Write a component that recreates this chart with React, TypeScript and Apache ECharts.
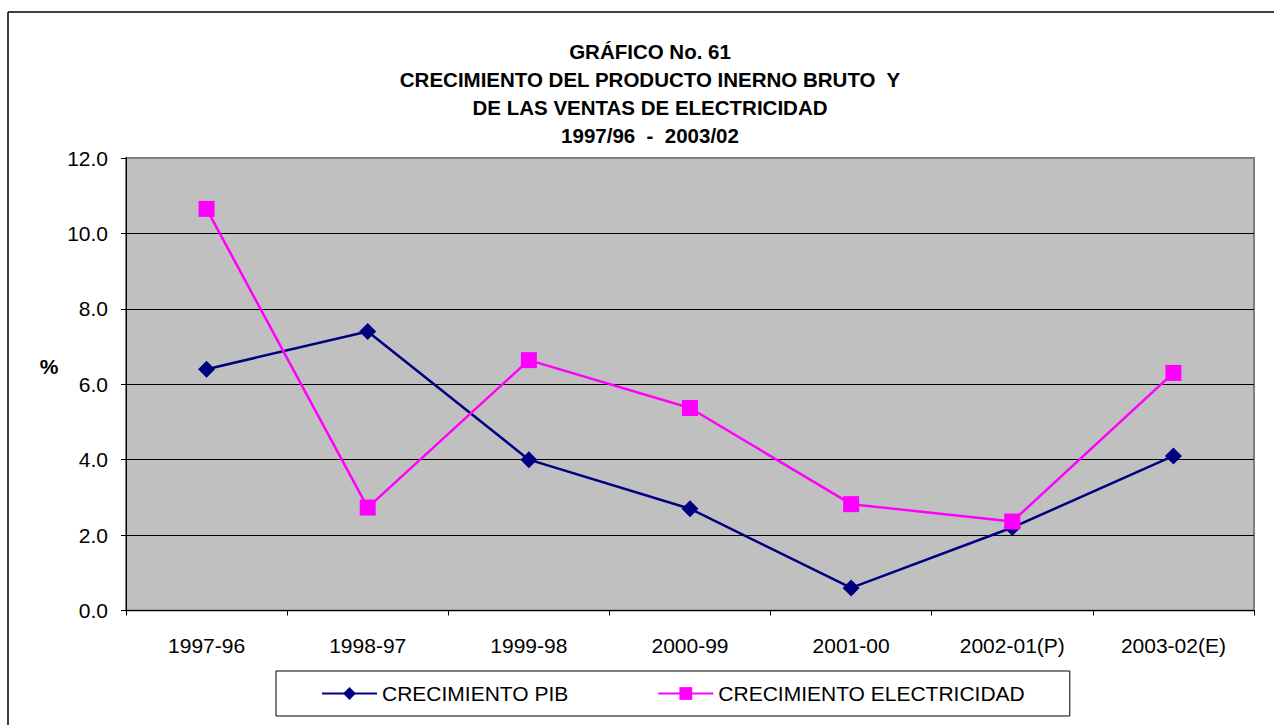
import React, { useEffect, useRef } from "react";
import * as echarts from "echarts";

const titleLines = [
  "GRÁFICO No. 61",
  "CRECIMIENTO DEL PRODUCTO INERNO BRUTO  Y",
  "DE LAS VENTAS DE ELECTRICIDAD",
  "1997/96  -  2003/02",
];
const categories = ["1997-96", "1998-97", "1999-98", "2000-99", "2001-00", "2002-01(P)", "2003-02(E)"];
const pibName = "CRECIMIENTO PIB";
const elecName = "CRECIMIENTO ELECTRICIDAD";
const pibValues = [6.4, 7.4, 4.0, 2.7, 0.6, 2.2, 4.1];
const elecValues = [10.65, 2.73, 6.64, 5.37, 2.82, 2.36, 6.3];
const yMin = 0;
const yMax = 12;
const yStep = 2;
const yUnit = "%";

const FONT = '"Liberation Sans", Arial, sans-serif';

export default function App() {
  const ref = useRef<HTMLDivElement>(null);
  useEffect(() => {
    if (!ref.current) return;
    const chart = echarts.init(ref.current, undefined, { renderer: "svg" });
    chart.setOption({
      animation: false,
      backgroundColor: "#ffffff",
      textStyle: { fontFamily: FONT },
      title: {
        text: titleLines.join("\n"),
        left: 650,
        textAlign: "center",
        top: 37,
        padding: 0,
        textStyle: {
          fontFamily: FONT,
          fontSize: 20.5,
          fontWeight: "bold",
          color: "#000",
          lineHeight: 28,
        },
      },
      graphic: [
        { type: "line", shape: { x1: 8, y1: 12, x2: 1274, y2: 12 }, style: { stroke: "#000", lineWidth: 1.5 } },
        { type: "line", shape: { x1: 8, y1: 12, x2: 8, y2: 725 }, style: { stroke: "#000", lineWidth: 1.5 } },
        {
          type: "text",
          x: 49,
          y: 366,
          style: {
            text: yUnit,
            fontFamily: FONT,
            fontSize: 21,
            fontWeight: "bold",
            fill: "#000",
            textAlign: "center",
            textVerticalAlign: "middle",
          },
        },
      ],
      legend: {
        left: 276,
        top: 671,
        padding: [12, 45],
        itemGap: 89,
        itemWidth: 55,
        itemHeight: 16,
        borderColor: "#000",
        borderWidth: 1,
        backgroundColor: "#fff",
        textStyle: { fontFamily: FONT, fontSize: 21, color: "#000" },
        data: [pibName, elecName],
      },
      grid: {
        left: 126,
        right: 20,
        top: 158,
        bottom: 114.5,
        show: true,
        backgroundColor: "#C0C0C0",
        borderColor: "#808080",
        borderWidth: 2,
      },
      xAxis: {
        type: "category",
        data: categories,
        boundaryGap: true,
        axisLine: { lineStyle: { color: "#000", width: 1 } },
        axisTick: { show: true, length: 5, inside: false, lineStyle: { color: "#000" } },
        axisLabel: { margin: 24, fontFamily: FONT, fontSize: 21, color: "#000" },
      },
      yAxis: {
        type: "value",
        min: yMin,
        max: yMax,
        interval: yStep,
        axisLine: { show: true, lineStyle: { color: "#000", width: 1 } },
        axisTick: { show: true, length: 5, inside: false, lineStyle: { color: "#000" } },
        axisLabel: {
          margin: 18,
          fontFamily: FONT,
          fontSize: 21,
          color: "#000",
          formatter: (v: number) => v.toFixed(1),
        },
        splitLine: { show: true, showMaxLine: false, lineStyle: { color: "#000", width: 1 } },
      },
      series: [
        {
          name: pibName,
          type: "line",
          data: pibValues,
          symbol: "diamond",
          symbolSize: 17,
          lineStyle: { color: "#000080", width: 2.5 },
          itemStyle: { color: "#000080" },
          z: 3,
        },
        {
          name: elecName,
          type: "line",
          data: elecValues,
          symbol: "rect",
          symbolSize: 16,
          lineStyle: { color: "#FF00FF", width: 2.5 },
          itemStyle: { color: "#FF00FF" },
          z: 4,
        },
      ],
    });
    return () => chart.dispose();
  }, []);
  return (
    <div
      ref={ref}
      style={{ position: "fixed", left: 0, top: 0, width: 1274, height: 725 }}
    />
  );
}
